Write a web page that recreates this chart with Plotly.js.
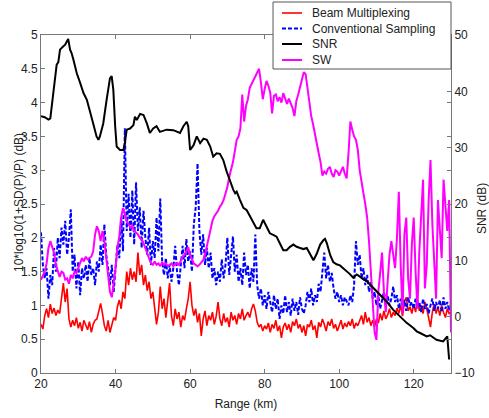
<!DOCTYPE html>
<html><head><meta charset="utf-8">
<script src="https://cdn.plot.ly/plotly-3.0.1.min.js"></script>
<style>html,body{margin:0;padding:0;background:#fff}#chart{width:489px;height:418px}</style>
</head><body><div id="chart"></div>
<script>
// x grid for the three noisy series: 20 km to 130 km, one sample every 0.5 km
const rangeStartKm = 20;
const rangeStepKm = 0.5;

const beamMultiplexing = [
 0.72,0.65,0.85,0.95,0.82,1.02,0.88,0.96,0.85,0.93,0.88,1.15,1.33,1.05,1.25,0.8,0.68,0.78,0.7,0.82,
 0.66,0.75,0.62,0.78,0.7,0.64,0.76,0.6,0.72,0.78,0.8,0.9,1.03,0.88,0.7,0.62,0.78,0.6,0.72,0.82,
 0.78,0.98,1.08,0.95,1.2,1.1,1.5,1.3,1.55,1.38,1.5,1.35,1.78,1.45,1.6,1.3,1.45,1.22,1.35,1.1,
 1.2,1.0,0.72,0.9,1.28,0.95,1.1,0.82,1.05,1.33,0.85,0.7,0.95,0.8,0.9,0.68,0.85,0.78,0.95,1.1,
 1.35,1.0,0.85,0.95,0.75,0.88,0.55,0.8,0.92,0.7,0.85,0.78,0.9,0.72,0.84,1.05,0.8,0.7,0.88,0.75,
 0.82,0.68,0.9,0.78,0.85,0.72,0.88,0.8,0.95,0.78,0.85,0.9,0.82,0.95,1.02,0.92,0.75,0.68,0.72,0.62,
 0.7,0.65,0.74,0.6,0.72,0.66,0.78,0.62,0.7,0.52,0.68,0.74,0.64,0.72,0.6,0.76,0.7,0.8,0.66,0.72,
 0.6,0.7,0.55,0.72,0.68,0.78,0.64,0.7,0.52,0.75,0.68,0.8,0.72,0.62,0.76,0.7,0.8,0.66,0.72,0.62,
 0.7,0.78,0.65,0.74,0.68,0.76,0.7,0.8,0.66,0.74,0.7,0.78,0.85,0.72,0.9,0.75,0.82,0.7,0.78,0.68,
 0.8,0.74,0.88,0.78,0.92,0.8,0.86,0.95,0.82,0.9,0.85,0.96,0.88,1.0,0.84,1.05,1.12,0.92,0.98,0.88,
 1.02,0.9,1.08,0.92,1.0,0.88,1.05,0.95,0.8,0.68,0.9,1.02,0.88,0.98,0.85,1.0,0.9,0.82,0.95,0.88,
 0.9
];

const conventionalSampling = [
 2.08,1.6,1.4,1.55,1.1,1.45,1.3,1.85,1.5,2.0,1.7,2.15,1.9,2.25,1.75,2.0,2.42,1.5,1.75,1.25,
 1.65,1.15,1.55,1.4,1.6,1.35,1.7,1.45,1.55,1.3,1.65,1.5,1.9,1.6,2.2,1.75,1.55,1.3,1.6,1.2,
 1.55,1.9,1.7,2.3,1.8,3.62,2.1,2.65,2.0,2.7,1.9,2.82,2.1,2.45,1.85,2.4,2.0,1.75,2.15,1.6,
 1.95,1.7,2.3,1.8,2.58,1.65,1.45,1.7,1.4,1.6,1.35,1.55,1.88,1.5,1.3,1.6,1.88,1.55,1.98,1.65,
 1.8,1.5,2.2,2.45,3.1,2.1,1.75,2.05,1.6,1.85,1.55,1.78,1.4,1.55,1.3,1.5,1.35,1.68,1.4,1.6,
 2.0,1.45,1.7,2.02,1.5,1.75,1.35,1.55,1.3,1.78,1.45,1.6,1.25,1.55,1.35,2.05,1.3,1.1,1.25,1.0,
 1.15,0.95,1.2,1.05,0.9,1.15,0.95,1.1,0.8,1.0,0.88,1.15,0.9,1.05,0.85,1.1,0.92,1.05,0.86,1.12,
 0.95,0.88,1.0,1.2,1.05,1.25,1.0,1.15,1.05,1.32,1.2,1.5,1.78,1.4,1.6,1.35,1.48,1.25,1.1,1.2,
 1.05,1.15,1.0,1.12,1.05,1.0,1.15,1.05,1.3,1.95,1.6,1.75,1.4,1.55,1.3,1.45,1.2,1.35,1.1,1.2,
 1.0,1.15,0.95,1.1,1.2,1.05,1.15,1.0,1.1,1.28,1.05,1.15,0.95,1.1,1.0,1.08,0.92,1.12,1.0,1.05,
 0.95,1.1,0.98,1.05,0.9,1.1,0.95,1.02,0.88,1.0,1.1,0.92,1.05,0.95,1.08,0.9,1.12,0.95,1.05,0.92,
 1.0
];

const swValues = [
 1.38,1.45,1.5,1.62,1.85,1.95,1.85,1.78,1.6,1.5,1.42,1.5,1.48,1.38,1.4,1.32,1.45,1.4,1.5,1.48,
 1.55,1.6,1.7,1.65,1.72,1.68,1.7,1.72,1.8,2.05,2.17,2.1,1.95,2.1,1.95,1.7,1.45,1.2,1.12,1.3,
 1.55,1.85,2.02,2.3,2.44,2.35,2.25,2.2,2.15,2.18,2.1,2.08,2.05,2.0,1.98,1.92,1.85,1.76,1.68,1.62,
 1.6,1.65,1.6,1.62,1.58,1.64,1.6,1.62,1.58,1.6,1.62,1.58,1.6,1.63,1.6,1.66,1.72,1.75,1.82,1.86,
 1.75,1.68,1.62,1.6,1.58,1.6,1.64,1.67,1.75,1.87,2.0,2.12,2.25,2.32,2.36,2.4,2.46,2.5,2.56,2.64,
 2.75,2.9,3.0,3.12,3.28,3.45,3.5,3.62,4.12,3.72,3.95,4.05,4.22,4.28,4.33,4.38,4.45,4.5,4.3,4.05,
 4.2,4.32,4.25,4.15,3.84,4.1,4.12,4.02,4.08,4.0,4.14,4.05,3.98,4.06,4.0,3.92,3.8,4.02,4.12,4.22,
 4.35,4.45,4.42,4.2,3.95,3.8,3.68,3.52,3.4,3.25,3.12,2.92,2.98,2.95,3.02,3.05,2.95,2.9,3.0,2.98,
 2.92,2.98,3.05,2.95,2.88,3.25,3.72,3.6,3.5,3.45,3.3,3.0,2.8,2.66,2.5,2.3,1.95,1.5,1.0,0.6,
 0.49,1.2,1.48,1.78,1.2,0.9,1.35,1.75,1.95,1.7,1.55,2.0,2.68,1.6,0.88,2.05,2.3,1.4,1.1,1.9,
 2.3,1.5,0.95,1.8,2.46,2.86,1.25,1.6,2.56,3.15,2.2,1.58,1.1,2.56,2.2,1.7,2.86,2.46,2.1,2.56,
 0.6
];

const snrRangeKm = [
 20,21,22,22.5,23.3,23.8,24.2,24.65,25.1,26,26.4,26.9,27.3,27.8,28.2,28.7,29.6,30.5,31.4,32.3,
 33.1,34,34.9,35.4,35.8,36.7,37.6,38.5,38.96,39.4,39.9,40.3,41.2,42.1,42.5,43,43.9,44.8,45.2,45.7,
 46.6,47.5,48.4,49.2,50.1,51,51.9,53.7,55.5,57.3,58.2,59.1,59.5,60,60.9,61.8,62.7,63.6,64.5,65.4,
 66.2,67.1,68,68.9,69.8,70.7,71.6,72.1,72.5,73.4,74.3,75.2,76.1,77,77.8,78.7,79.6,80.5,81.4,82.3,
 83.2,84.1,85,85.9,86.8,87.7,88.6,89.5,90.4,91.3,92.2,93.1,94,94.9,95.8,96.2,96.7,97.6,98.4,99.3,
 100.2,101.1,102,102.8,103.8,104.7,105.6,106.5,107.4,109.1,110.9,112.7,114.5,116.3,118.1,119.9,120.8,121.7,123.5,124.4,
 126.1,127.9,129,129.5
];
const snrDb = [
 35.6,35.4,35.0,35.2,39.7,42.6,44.7,45.2,47.4,48.0,48.2,48.8,49.3,47.4,46.8,45.6,43.2,41.5,39.7,38.5,
 36.7,34.3,32.0,31.4,32.0,34.3,38.5,42.3,42.7,40.3,33.8,30.2,29.6,29.6,30.8,33.2,33.4,34.0,35.5,34.9,
 36.0,35.8,34.3,32.6,33.4,33.8,32.8,33.2,33.1,32.6,33.8,34.6,33.8,29.6,30.4,32.0,30.8,31.6,31.4,30.2,
 28.4,29.0,28.9,27.8,25.8,24.0,22.5,21.9,22.2,20.7,19.3,18.9,17.8,16.6,15.7,15.7,17.2,16.0,14.8,14.5,
 14.2,13.0,11.8,11.8,12.4,12.8,12.4,12.2,12.0,12.2,11.0,10.0,11.2,12.8,13.6,13.8,13.0,10.9,9.7,9.3,
 9.1,8.6,8.1,7.6,6.9,7.5,7.1,6.6,6.3,5.1,3.9,2.7,1.2,0.0,-1.1,-2.0,-2.6,-2.9,-3.5,-3.3,
 -4.1,-4.4,-3.5,-7.6
];

const seriesNames = ['Beam Multiplexing', 'Conventional Sampling', 'SNR', 'SW'];
const seriesColors = ['#ff0000', '#0000ff', '#000000', '#ff00ff'];
const seriesDashes = ['solid', '4px,2px', 'solid', 'solid'];
const xTickVals = [20, 40, 60, 80, 100, 120];
const leftTickVals = [0, 0.5, 1, 1.5, 2, 2.5, 3, 3.5, 4, 4.5, 5];
const leftTickText = ['0', '0.5', '1', '1.5', '2', '2.5', '3', '3.5', '4', '4.5', '5'];
const rightTickVals = [-10, 0, 10, 20, 30, 40, 50];
const xTitle = 'Range (km)';
const leftTitle = '10*log10(1+SD(P)/P) (dB)';
const rightTitle = 'SNR (dB)';

const axisGrey = '#777';
const textColor = '#222';
const traceWidths = [1.6, 2, 2, 2];

const traces = [
  {type:'scatter', mode:'lines', name:seriesNames[0], x0:rangeStartKm, dx:rangeStepKm, y:beamMultiplexing,
   line:{color:seriesColors[0], width:traceWidths[0], dash:seriesDashes[0]}},
  {type:'scatter', mode:'lines', name:seriesNames[1], x0:rangeStartKm, dx:rangeStepKm, y:conventionalSampling,
   line:{color:seriesColors[1], width:traceWidths[1], dash:seriesDashes[1]}},
  {type:'scatter', mode:'lines', name:seriesNames[2], x:snrRangeKm, y:snrDb, yaxis:'y2',
   line:{color:seriesColors[2], width:traceWidths[2], dash:seriesDashes[2]}},
  {type:'scatter', mode:'lines', name:seriesNames[3], x0:rangeStartKm, dx:rangeStepKm, y:swValues,
   line:{color:seriesColors[3], width:traceWidths[3], dash:seriesDashes[3]}}
];

// MATLAB-style compact legend box (paper coordinates), drawn over the plot
const legendBox = {x0:0.5659, x1:1.0, y0:0.8994, y1:1.0976};
const legendRowY = [1.0651, 1.0192, 0.9734, 0.9260];
const legendSample = {x0:0.5878, x1:0.6366, textX:0.6561};

const shapes = [
  {type:'rect', xref:'paper', yref:'paper', x0:legendBox.x0, x1:legendBox.x1, y0:legendBox.y0, y1:legendBox.y1,
   fillcolor:'#ffffff', line:{color:'#555', width:1}, layer:'above'}
];
const annotations = [
  {text:leftTitle, xref:'paper', yref:'paper', x:-0.052, y:0.505, xanchor:'center', yanchor:'middle',
   textangle:-90, showarrow:false, font:{size:12, color:textColor}},
  {text:rightTitle, xref:'paper', yref:'paper', x:1.0756, y:0.488, xanchor:'center', yanchor:'middle',
   textangle:-90, showarrow:false, font:{size:12, color:textColor}}
];
seriesNames.forEach((name, i) => {
  shapes.push({type:'line', xref:'paper', yref:'paper', x0:legendSample.x0, x1:legendSample.x1,
    y0:legendRowY[i], y1:legendRowY[i], line:{color:seriesColors[i], width:traceWidths[i], dash:seriesDashes[i]}, layer:'above'});
  annotations.push({text:name, xref:'paper', yref:'paper', x:legendSample.textX, y:legendRowY[i],
    xanchor:'left', yanchor:'middle', showarrow:false, font:{size:12, color:textColor}});
});

const layout = {
  width:489, height:418,
  margin:{l:41, r:38, t:35, b:45, pad:0},
  paper_bgcolor:'#ffffff', plot_bgcolor:'#ffffff',
  font:{family:'Liberation Sans, Arial, sans-serif', size:12, color:textColor},
  showlegend:false,
  xaxis:{range:[20,130], tickvals:xTickVals, ticks:'inside', ticklen:4, tickcolor:axisGrey,
         showline:true, linecolor:axisGrey, linewidth:1, mirror:'ticks', showgrid:false, zeroline:false,
         title:{text:xTitle, standoff:9, font:{size:12}}, automargin:false},
  yaxis:{range:[0,5], tickvals:leftTickVals, ticktext:leftTickText, ticks:'inside', ticklen:4, tickcolor:axisGrey,
         showline:true, linecolor:axisGrey, linewidth:1, mirror:'ticks', showgrid:false, zeroline:false, automargin:false},
  yaxis2:{range:[-10,50], tickvals:rightTickVals, overlaying:'y', side:'right', ticks:'inside', ticklen:4, tickcolor:axisGrey,
         showline:true, linecolor:axisGrey, linewidth:1, showgrid:false, zeroline:false, automargin:false},
  shapes:shapes,
  annotations:annotations
};

Plotly.newPlot('chart', traces, layout, {displayModeBar:false, staticPlot:true});
</script>
</body></html>
